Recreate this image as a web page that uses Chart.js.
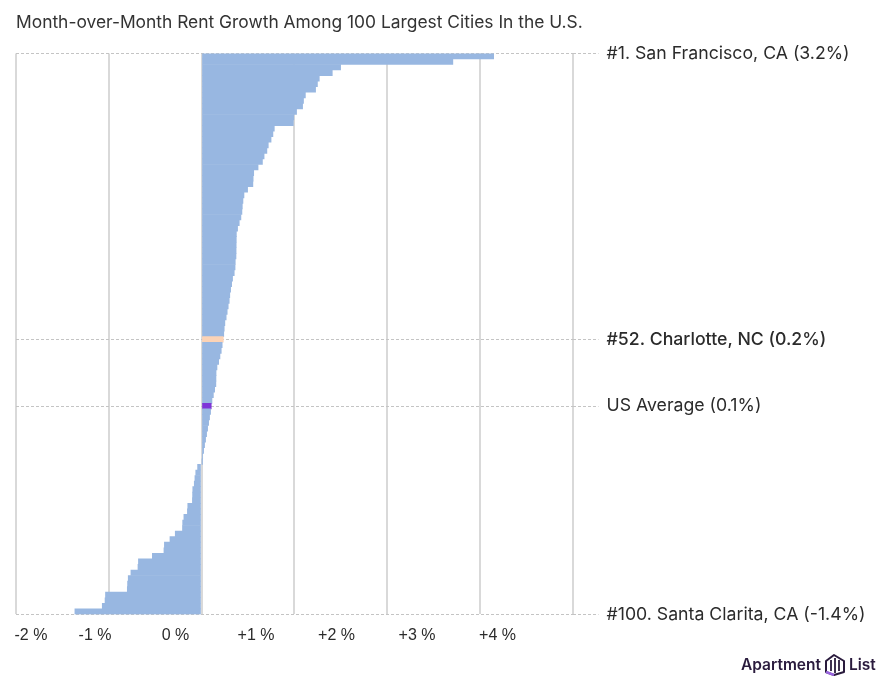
<!DOCTYPE html>
<html>
<head>
<meta charset="utf-8">
<script src="https://cdn.jsdelivr.net/npm/chart.js@4.4.1/dist/chart.umd.min.js"></script>
<style>
  html, body { margin: 0; padding: 0; background: #fff; }
  #wrap { position: relative; width: 886px; height: 676px; }
  #logo { position: absolute; left: 741px; top: 652px; display: flex; align-items: center; gap: 3px;
          font-family: Inter, "Noto Sans", sans-serif; font-weight: 600; font-size: 15.5px; color: #2a1b3d; }
</style>
</head>
<body>
<div id="wrap">
  <canvas id="c" width="886" height="676"></canvas>
  <div id="logo"><span>Apartment</span><svg width="22" height="24" viewBox="0 0 22 24"><path d="M2 9 L10 3 L20 9 V20 L10 23 L2 20 Z" fill="none" stroke="#2a1b3d" stroke-width="2" stroke-linejoin="round"/><path d="M7 8 V19 M11 6 V21 M15 8 V19" stroke="#2a1b3d" stroke-width="1.8" fill="none"/><path d="M2 20 L10 23" stroke="#9a66e0" stroke-width="2.5"/></svg><span>List</span></div>
</div>
<script>
// Month-over-month rent growth (%), ranked; US average inserted after rank 63
const rowValues = [
  3.15, 2.71, 1.50, 1.41, 1.27, 1.25, 1.23, 1.12, 1.10, 1.09,
  1.025, 0.995, 0.99, 0.785, 0.77, 0.75, 0.72, 0.705, 0.675, 0.657,
  0.61, 0.563, 0.557, 0.554, 0.497, 0.458, 0.447, 0.440, 0.436, 0.425,
  0.407, 0.389, 0.376, 0.375, 0.374, 0.373, 0.372, 0.364, 0.362, 0.353,
  0.335, 0.325, 0.314, 0.305, 0.299, 0.288, 0.277, 0.266, 0.252, 0.245,
  0.240, 0.235, 0.223, 0.213, 0.199, 0.185, 0.167, 0.157, 0.156, 0.155,
  0.142, 0.128, 0.113, 0.105, 0.098, 0.087, 0.077, 0.066, 0.055, 0.044,
  0.033, 0.023, 0.013, 0.005, -0.042, -0.062, -0.071, -0.078, -0.094, -0.096,
  -0.098, -0.148, -0.152, -0.19, -0.203, -0.205, -0.283, -0.34, -0.40, -0.405,
  -0.53, -0.68, -0.685, -0.761, -0.79, -0.797, -0.80, -1.035, -1.04, -1.07,
  -1.365
];
const charlotteRow = 51;
const usAverageRow = 63;
const labelRows = [-0.5, 51, 63, 100.5];
const labelTexts = ['#1. San Francisco, CA (3.2%)', '#52. Charlotte, NC (0.2%)', 'US Average (0.1%)', '#100. Santa Clarita, CA (-1.4%)'];
const xTickValues = [-2, -1, 0, 1, 2, 3, 4, 5];
const xTickLabels = ['-2 %', '-1 %', '0 %', '+1 %', '+2 %', '+3 %', '+4 %', ''];

const BLUE = '#98b7e1', PEACH = '#fcd3b6', PURPLE = '#7e35d8';
const FONT = 'Inter, "Noto Sans", sans-serif';

new Chart(document.getElementById('c'), {
  type: 'bar',
  data: {
    datasets: [{
      data: rowValues.map((v, i) => ({ x: v, y: i })),
      backgroundColor: rowValues.map((v, i) => i === charlotteRow ? PEACH : (i === usAverageRow ? PURPLE : BLUE)),
      borderWidth: 0,
      barPercentage: 1,
      categoryPercentage: 1,
      xAxisID: 'x',
      yAxisID: 'y'
    }]
  },
  options: {
    indexAxis: 'y',
    responsive: false,
    animation: false,
    layout: { padding: { left: 16, right: 0, top: 0, bottom: 0 } },
    plugins: {
      legend: { display: false },
      tooltip: { enabled: false },
      title: {
        display: true,
        text: 'Month-over-Month Rent Growth Among 100 Largest Cities In the U.S.',
        align: 'start',
        color: '#333',
        font: { family: FONT, size: 17.4, weight: 'normal' },
        padding: { top: 12, bottom: 20.5 }
      }
    },
    scales: {
      x: {
        type: 'linear', min: -2, max: 4, position: 'bottom',
        ticks: { display: false, stepSize: 1 },
        grid: { color: '#d9d9d9', lineWidth: 2, drawTicks: false },
        border: { display: false }
      },
      xLab: {
        type: 'linear', position: 'bottom',
        min: -2 + 1.5 / 80.5, max: -2 + 1.5 / 80.5 + 556.5 / 80.5,
        afterBuildTicks: s => { s.ticks = xTickValues.map(v => ({ value: v })); },
        afterFit: s => { s.height = 676 - 614.4; },
        ticks: {
          autoSkip: false, maxRotation: 0, align: 'inner', padding: 12,
          color: '#2b2b2b', font: { family: '"Liberation Sans", Arial, sans-serif', size: 16 },
          callback: (v, i) => xTickLabels[i]
        },
        grid: { display: false, drawTicks: false },
        border: { display: false }
      },
      y: {
        type: 'linear', reverse: true, min: -0.5, max: 100.5, position: 'right',
        offset: false, bounds: 'data',
        afterBuildTicks: s => { s.ticks = labelRows.map(v => ({ value: v })); },
        afterFit: s => { s.width = 886 - 572.5; },
        ticks: {
          autoSkip: false, padding: 8, color: '#2b2b2b',
          font: ctx => ({ family: FONT, size: 17.7, weight: ctx.index === 1 ? '500' : 'normal' }),
          callback: (v, i) => labelTexts[i]
        },
        grid: { offset: false, color: '#c4c4c4', lineWidth: 1, drawTicks: true, tickLength: 26,
                tickColor: '#c4c4c4', tickWidth: 1, tickBorderDash: [3, 2] },
        border: { display: false, dash: [3, 2] }
      }
    }
  }
});
</script>
</body>
</html>
